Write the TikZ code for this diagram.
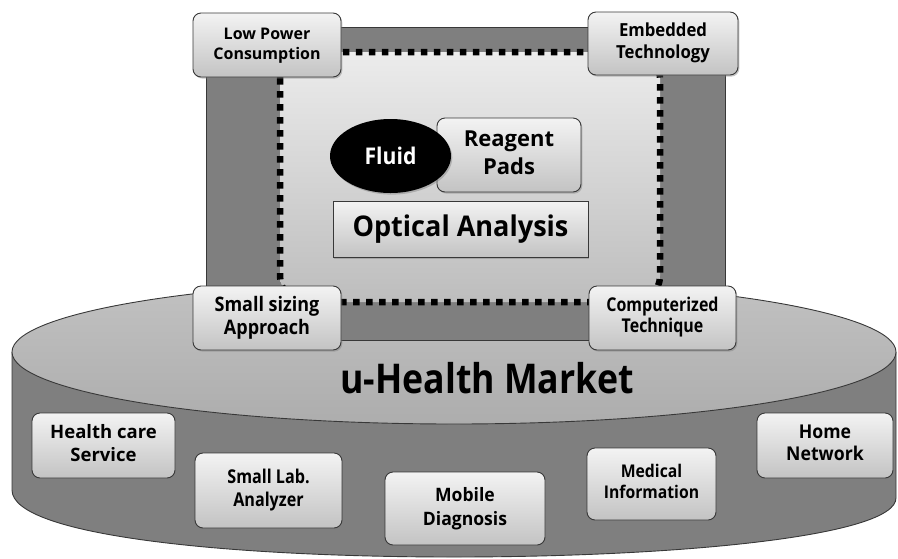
\documentclass[tikz,border=0pt]{standalone}
\usepackage{fontspec}
\setmainfont{Open Sans}
\usepackage{graphicx}
\usetikzlibrary{shadows,shapes.geometric}

\definecolor{slab}{HTML}{7F7F7F}
\definecolor{rim}{HTML}{383838}
\definecolor{cardtop}{HTML}{F3F3F3}
\definecolor{cardbot}{HTML}{C3C3C3}
\definecolor{disctop}{HTML}{C2C2C2}
\definecolor{discbot}{HTML}{ADADAD}
\definecolor{innertop}{HTML}{ECECEC}
\definecolor{innerbot}{HTML}{BDBDBD}

% two centred lines, squeezed horizontally by #1, size #2, line skip #3
\newcommand\lines[5]{\scalebox{#1}[1]{\fontsize{#2}{#3}\selectfont
  \begin{tabular}{@{}c@{}}#4\\#5\end{tabular}}}

\begin{document}
\begin{tikzpicture}[x=1pt,y=-1pt,
  card/.style={draw=rim, line width=0.9pt, rounded corners=8pt,
    top color=cardtop, bottom color=cardbot, inner sep=0pt,
    font=\bfseries,
    drop shadow={shadow xshift=1.3pt, shadow yshift=-1.6pt, opacity=0.45}},
  rim line/.style={draw=rim, line width=0.9pt}]
\useasboundingbox (0,0) rectangle (898,558);

% market cylinder: side wall, then the top face
\fill[slab] (12,352) -- (12,490) .. controls (12,536) and (230,557) .. (454,557)
  .. controls (680,557) and (896,536) .. (896,498) -- (896,352) -- cycle;
\draw[rim line] (12,352) -- (12,490) .. controls (12,536) and (230,557) .. (454,557)
  .. controls (680,557) and (896,536) .. (896,498) -- (896,352);
\shade[top color=disctop, bottom color=discbot, draw=rim, line width=0.9pt]
  (454,352) ellipse [x radius=442pt, y radius=72pt];

% device block with the dotted sensing area
\filldraw[fill=slab, draw=rim, line width=0.8pt] (206,27) rectangle (725,340);
\shade[top color=innertop, bottom color=innerbot, rounded corners=26pt]
  (280,52) rectangle (660,302);
\draw[line width=6.5pt, dash pattern=on 6.5pt off 6.5pt, rounded corners=26pt]
  (280,52) rectangle (660,302);

% inside the sensing area
\node[card, minimum width=144pt, minimum height=74pt] (pads) at (509,155)
  {\lines{1}{22}{28}{Reagent}{Pads}};
\node[fill=black, ellipse, minimum width=121pt, minimum height=74pt, inner sep=0pt,
  text=white, font=\bfseries\fontsize{23}{26}\selectfont,
  drop shadow={shadow xshift=1.3pt, shadow yshift=-1.6pt, opacity=0.45}]
  (fluid) at (390.5,156) {\scalebox{0.92}[1]{Fluid}};
\node[card, rounded corners=0pt, minimum width=255pt, minimum height=56pt,
  font=\bfseries\fontsize{28.5}{32}\selectfont] (optical) at (460.5,229)
  {\scalebox{0.95}[1]{Optical Analysis}};

% corner features of the device
\node[card, minimum width=148pt, minimum height=64pt] (power) at (267,45)
  {\lines{1}{16}{20}{Low Power}{Consumption}};
\node[card, minimum width=150pt, minimum height=63pt] (embedded) at (663,43.5)
  {\lines{0.93}{18}{22}{Embedded}{Technology}};
\node[card, minimum width=148pt, minimum height=64pt] (sizing) at (267,318)
  {\lines{0.9}{20}{23}{Small sizing}{Approach}};
\node[card, minimum width=147pt, minimum height=64pt] (computer) at (662.5,318)
  {\lines{0.84}{19}{21}{Computerized}{Technique}};

% market title
\node[anchor=base, font=\bfseries\fontsize{41}{44}\selectfont] (market) at (487,393)
  {\scalebox{0.87}[1]{u-Health Market}};

% market segments
\node[card, minimum width=143pt, minimum height=65pt] (care) at (103.5,445.5)
  {\lines{1}{18.5}{23}{Health care}{Service}};
\node[card, minimum width=147pt, minimum height=75pt] (lab) at (268.5,490.5)
  {\lines{0.85}{19}{23}{Small Lab.}{Analyzer}};
\node[card, minimum width=160pt, minimum height=73pt] (mobile) at (465,508.5)
  {\lines{0.95}{18.5}{24}{Mobile}{Diagnosis}};
\node[card, minimum width=129pt, minimum height=72pt] (medical) at (651.5,484)
  {\lines{0.9}{17.5}{21}{Medical}{Information}};
\node[card, minimum width=136pt, minimum height=65pt] (home) at (825,445.5)
  {\lines{0.93}{19}{22}{Home}{Network}};
\end{tikzpicture}
\end{document}
